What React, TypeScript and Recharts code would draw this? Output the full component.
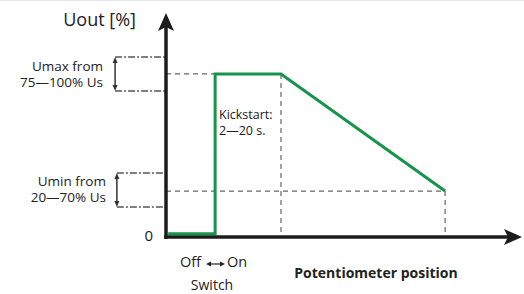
import { LineChart, Line, XAxis, YAxis, ReferenceLine, Customized } from "recharts";

// green output curve (x = potentiometer position, y = Uout %)
const curveX = [0.6, 13.8, 13.8, 32.3, 78.4];
const curveY = [1.5, 1.5, 72.8, 72.8, 20.5];

const umaxLevel = 72.8;
const uminLevel = 20.5;
const umaxRange = [65.2, 80.4];
const uminRange = [13.4, 28.6];
const switchX = 13.8;
const kickEndX = 32.3;
const potEndX = 78.4;
const umaxBracketX = -14.3;
const uminBracketX = -13.8;

const data = curveX.map((x, i) => ({ x, y: curveY[i] }));

const FONT = "'Open Sans', sans-serif";
const INK = "#1c1c1c";
const GREEN = "#16944a";
const DASH = "#666";

const AxisArrow = (p: any) => {
  const { x1, y1, x2, y2 } = p;
  const dx = x2 - x1;
  const dy = y2 - y1;
  const len = Math.hypot(dx, dy);
  const ux = dx / len;
  const uy = dy / len;
  const px = -uy;
  const py = ux;
  const L = 18, W = 8, N = 4;
  const bx = x2 - ux * L;
  const by = y2 - uy * L;
  const nx = x2 - ux * (L - N);
  const ny = y2 - uy * (L - N);
  const pts = [
    [x2, y2],
    [bx + px * W, by + py * W],
    [nx, ny],
    [bx - px * W, by - py * W],
  ]
    .map((q) => q.join(","))
    .join(" ");
  return (
    <g>
      <line x1={x1} y1={y1} x2={nx} y2={ny} stroke={INK} strokeWidth={3.5} />
      <polygon points={pts} fill={INK} />
    </g>
  );
};

const DoubleArrow = (p: any) => {
  const { x1, y1, y2 } = p;
  const top = Math.min(y1, y2);
  const bot = Math.max(y1, y2);
  return (
    <g>
      <line x1={x1} y1={top + 3} x2={x1} y2={bot - 3} stroke="#333" strokeWidth={1.5} />
      <polygon points={`${x1},${top} ${x1 - 2.5},${top + 6} ${x1 + 2.5},${top + 6}`} fill="#333" />
      <polygon points={`${x1},${bot} ${x1 - 2.5},${bot - 6} ${x1 + 2.5},${bot - 6}`} fill="#333" />
    </g>
  );
};

const Texts = () => (
  <g fontFamily={FONT} fill="#222">
    <line x1={0} y1={0.5} x2={524} y2={0.5} stroke="#e2e7ee" />
    <text x={136} y={26} fontSize={18} textAnchor="end">Uout [%]</text>
    <text x={103} y={71} fontSize={13.5} textAnchor="end">Umax from</text>
    <text x={103} y={86.5} fontSize={13.5} textAnchor="end">75—100% Us</text>
    <text x={106} y={186} fontSize={13.5} textAnchor="end">Umin from</text>
    <text x={106} y={201.5} fontSize={13.5} textAnchor="end">20—70% Us</text>
    <text x={153} y={240.5} fontSize={15} textAnchor="end">0</text>
    <text x={219} y={119} fontSize={12.5}>Kickstart:</text>
    <text x={219} y={135} fontSize={12.5}>2—20 s.</text>
    <text x={201} y={267} fontSize={14.5} textAnchor="end">Off</text>
    <text x={227} y={267} fontSize={14.5}>On</text>
    <line x1={209} y1={264} x2={222} y2={264} stroke="#222" strokeWidth={1.2} />
    <polygon points="206,264 211,261.5 211,266.5" fill="#222" />
    <polygon points="225,264 220,261.5 220,266.5" fill="#222" />
    <text x={212} y={290} fontSize={14} textAnchor="middle">Switch</text>
    <text x={376} y={278} fontSize={14} fontWeight="bold" textAnchor="middle">Potentiometer position</text>
  </g>
);

export default function App() {
  return (
    <div style={{ position: "absolute", left: 0, top: 0, width: 524, height: 294, background: "#fff" }}>
      <LineChart width={524} height={294} data={data} margin={{ top: 13, right: 2, bottom: 57, left: 166 }}>
        <XAxis type="number" dataKey="x" domain={[0, 100]} hide allowDataOverflow />
        <YAxis type="number" dataKey="y" domain={[0, 100]} hide allowDataOverflow />

        {/* dash-dot range brackets */}
        {[umaxRange[0], umaxRange[1]].map((v) => (
          <ReferenceLine key={"a" + v} segment={[{ x: umaxBracketX, y: v }, { x: 0, y: v }]} stroke="#555" strokeWidth={1.5} strokeDasharray="7 2 2 2" ifOverflow="visible" />
        ))}
        {[uminRange[0], uminRange[1]].map((v) => (
          <ReferenceLine key={"b" + v} segment={[{ x: uminBracketX, y: v }, { x: 0, y: v }]} stroke="#555" strokeWidth={1.5} strokeDasharray="7 2 2 2" ifOverflow="visible" />
        ))}
        <ReferenceLine segment={[{ x: umaxBracketX, y: umaxRange[0] }, { x: umaxBracketX, y: umaxRange[1] }]} shape={DoubleArrow} ifOverflow="visible" />
        <ReferenceLine segment={[{ x: uminBracketX, y: uminRange[0] }, { x: uminBracketX, y: uminRange[1] }]} shape={DoubleArrow} ifOverflow="visible" />

        {/* dashed guides */}
        <ReferenceLine segment={[{ x: 0, y: umaxLevel }, { x: switchX, y: umaxLevel }]} stroke={DASH} strokeWidth={1.2} strokeDasharray="5 4" ifOverflow="visible" />
        <ReferenceLine segment={[{ x: kickEndX, y: umaxLevel }, { x: kickEndX, y: 0 }]} stroke={DASH} strokeWidth={1.2} strokeDasharray="5 4" ifOverflow="visible" />
        <ReferenceLine segment={[{ x: 0, y: uminLevel }, { x: potEndX, y: uminLevel }]} stroke={DASH} strokeWidth={1.2} strokeDasharray="5 4" ifOverflow="visible" />
        <ReferenceLine segment={[{ x: potEndX, y: uminLevel }, { x: potEndX, y: 0 }]} stroke={DASH} strokeWidth={1.2} strokeDasharray="5 4" ifOverflow="visible" />

        <Line type="linear" dataKey="y" stroke={GREEN} strokeWidth={3} dot={false} isAnimationActive={false} strokeLinejoin="miter" />

        {/* axes with arrows */}
        <ReferenceLine segment={[{ x: -0.5, y: 0 }, { x: 100, y: 0 }]} shape={AxisArrow} ifOverflow="visible" />
        <ReferenceLine segment={[{ x: 0, y: -0.9 }, { x: 0, y: 100 }]} shape={AxisArrow} ifOverflow="visible" />

        <Customized component={<Texts />} />
      </LineChart>
    </div>
  );
}
